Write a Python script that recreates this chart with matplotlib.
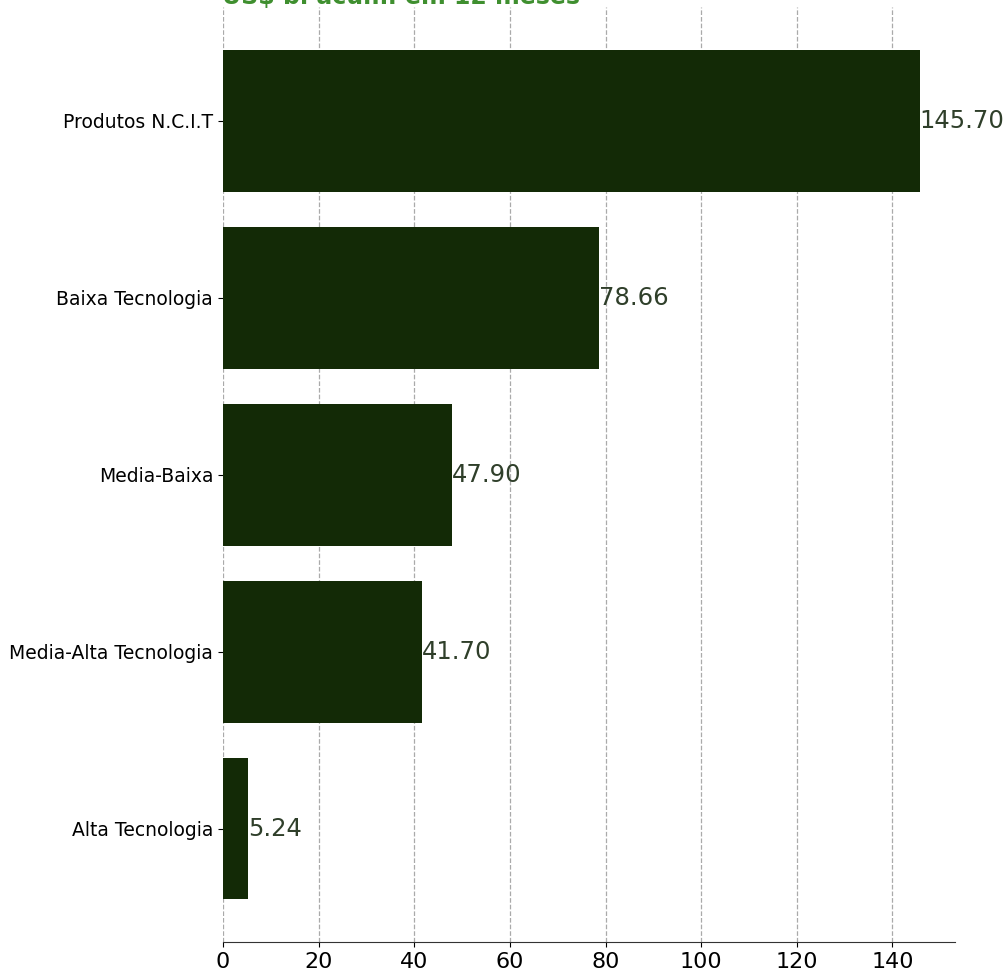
import matplotlib
matplotlib.use("Agg")
import matplotlib.pyplot as plt

categories = ["Produtos N.C.I.T", "Baixa Tecnologia", "Media-Baixa",
              "Media-Alta Tecnologia", "Alta Tecnologia"]
values = [145.70, 78.66, 47.90, 41.70, 5.24]
title_text = "US$ bi acum. em 12 meses"

fig = plt.figure(figsize=(10.07, 9.73), dpi=100)
ax = fig.add_axes([0.2214, 0.0319, 0.948 - 0.2214, 0.9923 - 0.0319])

ypos = list(range(len(categories)))[::-1]
ax.barh(ypos, values, height=0.8, color="#132a06", zorder=3)
for y, v in zip(ypos, values):
    ax.text(v, y, f"{v:.2f}", va="center", ha="left", fontsize=17.5, color="#2f3f2a", zorder=4)

ax.set_yticks(ypos)
ax.set_yticklabels(categories, fontsize=13.5)
ax.set_xticks([0, 20, 40, 60, 80, 100, 120, 140])
ax.tick_params(axis="x", labelsize=16)
ax.set_xlim(0, 153)
ax.set_ylim(-0.64, 4.64)
ax.grid(axis="x", linestyle="--", color="#aaaaaa", linewidth=0.9, zorder=0)
for s in ["top", "right", "left"]:
    ax.spines[s].set_visible(False)
ax.spines["bottom"].set_color("#333333")

fig.text(0.2204, 1 - 4 / 973, title_text, fontsize=17, color="#3f8f2f", fontweight="bold",
         ha="left", va="baseline")

fig.savefig("out.png", dpi=100)
